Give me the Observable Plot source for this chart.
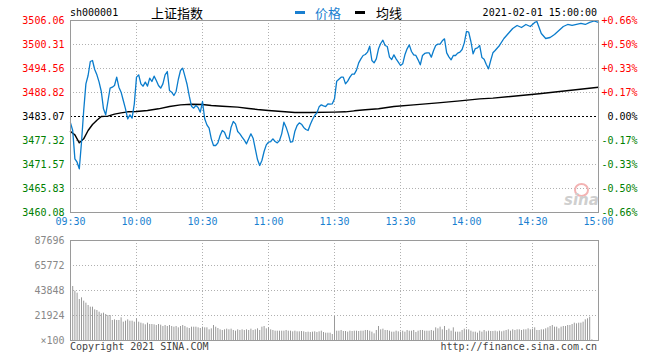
<!DOCTYPE html>
<html><head><meta charset="utf-8">
<script src="https://cdn.jsdelivr.net/npm/d3@7"></script>
<script src="https://cdn.jsdelivr.net/npm/@observablehq/plot@0.6"></script>
<style>
body{margin:0;background:#fff;}
#wrap{position:relative;width:660px;height:360px;overflow:hidden;font-family:"DejaVu Sans Mono",monospace;}
.t{position:absolute;white-space:nowrap;font-size:10px;line-height:12px;}
.cn{position:absolute;white-space:nowrap;font-family:"Noto Sans CJK SC",sans-serif;font-size:13px;line-height:15px;}
.dash{position:absolute;height:3px;width:10px;}
.plot{position:absolute;left:0;}
</style></head><body><div id="wrap"></div>
<script>
// ---- data ----
const prevClose = 3483.07;
const priceTicks = [3460.08, 3465.83, 3471.57, 3477.32, 3483.07, 3488.82, 3494.56, 3500.31, 3506.06];
const pctLabels = ["-0.66%","-0.50%","-0.33%","-0.17%","0.00%","+0.17%","+0.33%","+0.50%","+0.66%"];
const timeTicks = [0, 30, 60, 90, 120, 150, 180, 210, 240];
const timeLabels = ["09:30","10:00","10:30","11:00","11:30","13:30","14:00","14:30","15:00"];
const volTicks = [0, 21924, 43848, 65772, 87696];
const volLabels = ["\u00d7100","21924","43848","65772","87696"];

const priceMin = [0,1,2,3,4,5,6,7,8,9,10,11,12,13,14,15,16,17,18,19,20,21,22,23,24,25,26,27,28,29,30,31,32,33,34,35,36,37,38,39,40,41,42,43,44,45,46,47,48,49,50,51,52,53,54,55,56,57,58,59,60,61,62,63,64,65,66,67,68,69,70,71,72,73,74,75,76,77,78,79,80,81,82,83,84,85,86,87,88,89,90,91,92,93,94,95,96,97,98,99,100,101,102,103,104,105,106,107,108,109,110,111,112,113,114,115,116,117,118,119,120,121,122,123,124,125,126,127,128,129,130,131,132,133,134,135,136,137,138,139,140,141,142,143,144,145,146,147,148,149,150,151,152,153,154,155,156,157,158,159,160,161,162,163,164,165,166,167,168,169,170,171,172,173,174,175,176,177,178,179,180,181,182,183,184,185,186,187,188,189,190,191,192,193,195,197,199,201,203,205,207,209,211,212,214,216,218,220,222,224,226,228,230,232,234,236,238,240];
const priceVal = [3481.55,3479.72,3472.93,3472.13,3470.54,3476.92,3484.51,3490.89,3492.89,3496.24,3496.48,3494.33,3493.05,3491.29,3489.06,3484.91,3483.47,3486.66,3489.86,3490.09,3490.49,3492.49,3490.09,3488.90,3486.90,3484.91,3482.51,3483.47,3482.67,3486.10,3492.49,3493.05,3490.89,3490.33,3491.29,3490.33,3492.25,3491.45,3492.73,3491.69,3490.49,3489.86,3490.89,3493.05,3493.85,3489.30,3488.90,3488.10,3489.06,3491.93,3494.09,3494.65,3492.73,3490.73,3487.94,3485.54,3485.07,3485.70,3485.23,3484.11,3486.66,3482.51,3481.07,3480.28,3477.72,3476.13,3476.13,3476.76,3478.52,3479.72,3479.32,3477.96,3477.72,3480.52,3481.87,3481.31,3479.48,3478.92,3478.12,3477.40,3476.52,3477.72,3478.92,3477.88,3475.33,3472.77,3471.34,3472.53,3474.69,3476.28,3476.92,3477.08,3477.72,3477.08,3476.76,3477.32,3478.92,3481.71,3480.52,3478.92,3476.92,3477.08,3479.56,3480.91,3481.55,3481.23,3480.44,3479.96,3479.72,3481.15,3482.35,3483.31,3483.95,3485.38,3485.86,3485.62,3485.46,3486.10,3486.02,3486.10,3487.30,3491.53,3492.01,3492.49,3492.49,3490.89,3491.53,3492.49,3493.21,3493.21,3494.17,3495.92,3496.88,3497.68,3497.92,3498.48,3499.91,3496.48,3495.92,3496.88,3499.28,3500.55,3501.35,3500.07,3499.83,3497.28,3496.72,3497.84,3496.88,3496.08,3495.28,3495.68,3497.84,3499.28,3500.23,3498.64,3497.84,3497.68,3496.64,3495.44,3497.68,3498.16,3498.32,3498.32,3497.28,3498.80,3500.07,3500.39,3500.39,3501.19,3501.67,3498.32,3497.36,3496.64,3497.68,3497.68,3498.24,3498.48,3499.12,3500.71,3503.43,3503.27,3501.03,3498.08,3499.35,3499.51,3500.07,3497.20,3496.80,3495.52,3494.49,3496.48,3498.32,3498.88,3500.08,3501.75,3502.95,3504.15,3504.87,3504.39,3505.11,3504.63,3505.59,3505.82,3502.95,3501.75,3501.99,3502.71,3503.67,3504.63,3505.11,3504.87,3505.11,3505.35,3505.11,3505.59,3505.94,3505.59];

const avgMin = [0,2,4,6,8,10,12,14,17,20,23,26,30,35,40,45,50,55,60,64,69,76,81,85,90,96,102,109,120,125,129,134,140,147,156,167,177,186,192,213,240];
const avgVal = [3479.48,3478.68,3476.76,3477.72,3479.72,3481.15,3482.19,3483.07,3483.15,3483.63,3483.95,3484.19,3484.27,3484.51,3484.91,3485.46,3485.86,3486.02,3485.94,3485.70,3485.54,3485.31,3484.99,3484.75,3484.51,3484.27,3484.03,3484.03,3484.11,3484.19,3484.43,3484.67,3484.91,3485.46,3485.86,3486.34,3486.82,3487.30,3487.46,3488.51,3490.09];

// volume per minute (x100), index = minute from 09:30
const volume = [87696,
47350,43260,41500,35950,37410,34490,32740,30690,29230,29230,
26890,26310,24850,23380,23970,22800,21920,21920,17540,18120,
17540,17540,19880,16080,16950,18120,16950,16950,16080,19000,
16080,15200,14620,13740,15200,14030,14030,13740,13150,14030,
13450,12280,13150,12280,13150,12280,11690,12280,11110,12280,
13150,12280,11110,10520,11690,11690,11690,11110,10520,11690,
11110,11110,9350,10230,13150,11690,10520,9350,8770,9350,
9940,9350,9940,8770,8180,9350,8770,9350,8770,9350,
8770,9940,8770,9350,10230,8770,11690,12280,10230,11110,
9350,8770,8180,8180,8180,8180,8180,8770,8180,8180,
7600,8180,7600,7600,7890,7600,7020,7310,7020,7310,
7600,7020,7600,8180,7020,6430,6430,6430,5260,21050,
8180,8180,8770,7890,7890,7310,8180,7890,8180,8180,
7890,8180,8180,8770,8770,8180,7310,5850,8770,12280,
9350,9940,8770,8770,8180,7310,7310,8180,7600,7310,
8180,7310,8770,8180,8180,8770,7020,8180,8770,8770,
8180,8180,8180,8770,8180,11110,10230,11690,9350,12280,
8770,9940,8180,11110,7310,7310,7310,8770,9940,9350,
9350,8180,7310,7310,6430,8180,7310,8770,7600,8180,
7890,7890,8180,7600,8180,7600,8180,8770,9350,8180,
9350,8770,9350,9350,8770,9350,9350,10230,9350,9940,
11110,8770,8770,9350,9350,10230,11110,12280,13150,11690,
11690,10230,11690,12280,12280,13150,13150,14030,15200,14620,
15200,15200,16080,18120,19000,20460,580];

// ---- build ----
const priceData = priceMin.map((m, i) => ({m, p: priceVal[i]}));
const avgData = avgMin.map((m, i) => ({m, p: avgVal[i]}));
const volData = volume.map((v, i) => ({m: i, v}));

const RED = "#ff0000", GREEN = "#008000", BLUE = "#1a7fd0";
const colorOf = d => d > prevClose ? RED : d < prevClose ? GREEN : "#000";
const dotted = {stroke: "#b0b0b0", strokeDasharray: "1,2", strokeWidth: 1};

const pricePlot = Plot.plot({
  width: 660, height: 232,
  marginLeft: 70, marginRight: 62, marginTop: 20, marginBottom: 20,
  x: {domain: [0, 240], axis: null},
  y: {domain: [3460.08, 3506.06], axis: null},
  color: {type: "identity"},
  style: {fontFamily: "'DejaVu Sans Mono', monospace", fontSize: "10px", background: "transparent", overflow: "visible"},
  marks: [
    Plot.ruleX(timeTicks.slice(1, -1), dotted),
    Plot.ruleY(priceTicks.filter((d, i) => i > 0 && i < priceTicks.length - 1 && d !== prevClose), dotted),
    Plot.ruleY([prevClose], {stroke: "#000", strokeDasharray: "2,2", strokeWidth: 1}),
    Plot.line(avgData, {x: "m", y: "p", stroke: "#000", strokeWidth: 1.4}),
    Plot.line(priceData, {x: "m", y: "p", stroke: "#0a7ccc", strokeWidth: 1.3}),
    Plot.frame({stroke: "#9a9a9a"}),
    Plot.text(priceTicks, {frameAnchor: "left", y: d => d, text: d => d.toFixed(2), textAnchor: "end", dx: -6, fill: colorOf}),
    Plot.text(priceTicks, {frameAnchor: "right", y: d => d, text: (d, i) => pctLabels[i], textAnchor: "end", dx: 39, fill: colorOf}),
    Plot.text(timeTicks, {x: d => d, frameAnchor: "bottom", text: (d, i) => timeLabels[i], dy: 12, fill: BLUE})
  ]
});

const volPlot = Plot.plot({
  width: 660, height: 128,
  marginLeft: 70, marginRight: 62, marginTop: 8, marginBottom: 20,
  x: {domain: [0, 240], axis: null},
  y: {domain: [0, 87696], axis: null},
  style: {fontFamily: "'DejaVu Sans Mono', monospace", fontSize: "10px", background: "transparent", overflow: "visible"},
  marks: [
    Plot.ruleY(volTicks.slice(1, -1), dotted),
    Plot.ruleX(timeTicks.slice(1, -1), dotted),
    Plot.ruleX(volData, {x: "m", y1: 0, y2: "v", stroke: "#999", strokeWidth: 1}),
    Plot.frame({stroke: "#9a9a9a"}),
    Plot.text(volTicks, {frameAnchor: "left", y: d => d, text: (d, i) => volLabels[i], textAnchor: "end", dx: -6, fill: "#888"})
  ]
});

const wrap = document.getElementById("wrap");
pricePlot.classList.add("plot"); pricePlot.style.top = "0px";
volPlot.classList.add("plot"); volPlot.style.top = "232px";
wrap.appendChild(pricePlot);
wrap.appendChild(volPlot);

function add(cls, text, css) {
  const el = document.createElement("div");
  el.className = cls; el.textContent = text;
  Object.assign(el.style, css);
  wrap.appendChild(el);
  return el;
}
add("t", "sh000001", {left: "70px", top: "7px", color: "#000"});
add("cn", "上证指数", {left: "151px", top: "5px", color: "#000"});
add("dash", "", {left: "295px", top: "11px", background: BLUE});
add("cn", "价格", {left: "315px", top: "5px", color: BLUE});
add("dash", "", {left: "355px", top: "11px", background: "#000"});
add("cn", "均线", {left: "376px", top: "5px", color: "#000"});
add("t", "2021-02-01 15:00:00", {right: "63px", top: "7px", color: "#000"});
add("t", "Copyright 2021 SINA.COM", {left: "70px", top: "341px", color: "#444"});
add("t", "http://finance.sina.com.cn", {right: "63px", top: "341px", color: "#444"});
// sina watermark
add("t", "", {left: "574px", top: "183px", width: "11px", height: "10px", borderRadius: "50%", border: "2px solid #f3b3b3"});
add("t", "sina", {left: "564px", top: "193px", fontFamily: "'DejaVu Sans', sans-serif", fontStyle: "italic", fontWeight: "bold", fontSize: "15px", lineHeight: "15px", color: "#cfcfcf"});
</script>
</body></html>
